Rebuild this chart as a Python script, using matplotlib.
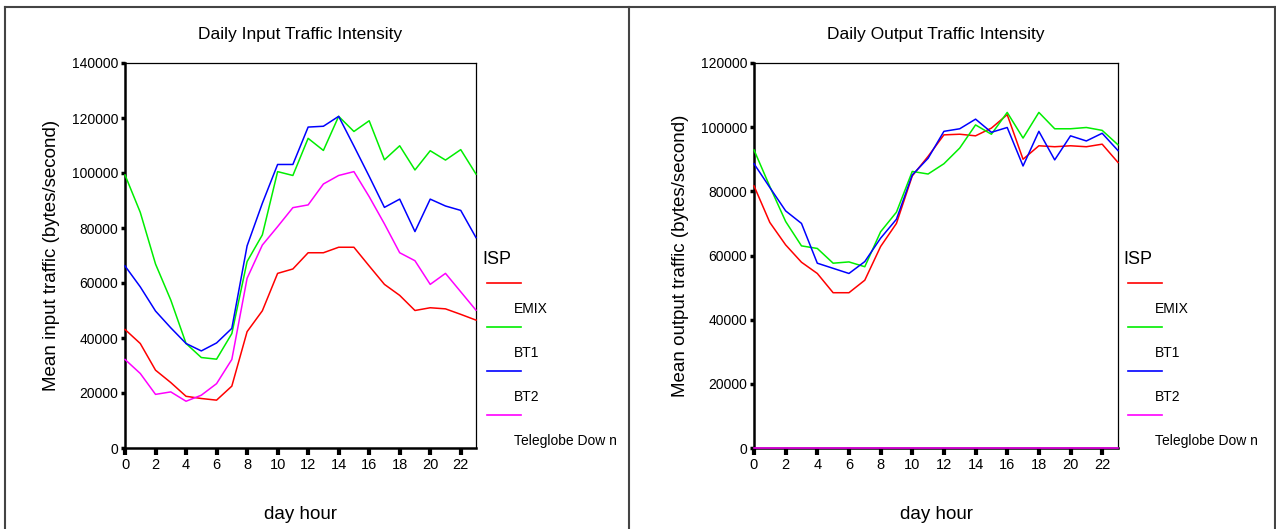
import numpy as np
import matplotlib
matplotlib.use("Agg")
import matplotlib.pyplot as plt
from matplotlib.lines import Line2D

plt.rcParams['font.family'] = ['Liberation Sans', 'DejaVu Sans']

hours = list(range(24))
isps = ["EMIX", "BT1", "BT2", "Teleglobe Dow n"]
colors = ["#ff0000", "#00ee00", "#0000ff", "#ff00ff"]

# mean input traffic (bytes/second) per hour
in_emix = [43100, 38000, 28300, 23800, 18800, 18000, 17400, 22500, 42300, 49900,
           63500, 65100, 71000, 71000, 73000, 73000, 66200, 59500, 55500, 50000,
           51000, 50600, 48600, 46500]
in_bt1 = [99300, 85700, 66900, 53800, 38000, 32900, 32300, 41600, 67800, 77500,
          100500, 99100, 112600, 108200, 120600, 115100, 119000, 104800, 109900, 101100,
          108100, 104700, 108500, 99600]
in_bt2 = [66200, 58600, 49800, 43700, 38000, 35300, 38200, 43500, 73500, 89000,
          103100, 103100, 116700, 117000, 120600, 109800, 98800, 87500, 90500, 78700,
          90500, 88000, 86400, 76500]
in_tele = [32200, 27100, 19500, 20400, 17000, 19200, 23400, 32200, 61700, 73800,
           80500, 87400, 88400, 96000, 99100, 100500, 91400, 81500, 71000, 68100,
           59500, 63500, 56800, 50100]

# mean output traffic (bytes/second) per hour
out_emix = [81700, 70300, 63300, 57900, 54400, 48400, 48400, 52300, 62800, 70000,
            84800, 90900, 97600, 97800, 97300, 99700, 103900, 90000, 94200, 93900,
            94200, 93900, 94700, 89000]
out_bt1 = [92900, 81500, 70600, 63000, 62200, 57600, 58000, 56500, 67400, 73500,
           86200, 85400, 88600, 93500, 100700, 97800, 104600, 96600, 104600, 99500,
           99500, 99900, 99000, 94500]
out_bt2 = [88600, 81200, 73900, 70000, 57600, 56000, 54400, 58100, 65400, 71300,
           85100, 90300, 98700, 99500, 102500, 98400, 99900, 87900, 98700, 89800,
           97300, 95700, 98100, 92700]
out_tele = [0] * 24

W, H = 1276, 529
fig = plt.figure(figsize=(W / 100, H / 100), dpi=100)


def fx(x):
    return x / W


def fy(y):
    return 1 - y / H


def panel(left, right, title, ylabel, ymax, series, leg_x):
    ax = fig.add_axes([fx(left), fy(448), fx(right - left), (448 - 63) / H])
    for vals, c in zip(series, colors):
        ax.plot(hours, vals, color=c, lw=1.1, clip_on=False, zorder=3)
    ax.set_xlim(0, 23)
    ax.set_ylim(0, ymax)
    ax.set_xticks(range(0, 23, 2))
    ax.set_yticks(range(0, ymax + 1, 20000))
    for s in ['top', 'right']:
        ax.spines[s].set_linewidth(0.9)
    for s in ['left', 'bottom']:
        ax.spines[s].set_linewidth(1.8)
    ax.tick_params(axis='y', length=3, width=2.5, pad=2, labelsize=10)
    ax.tick_params(axis='x', length=5, width=3, pad=2, labelsize=10.5)
    ax.set_title(title, fontsize=12.5, pad=17)
    ax.set_ylabel(ylabel, fontsize=13.5, labelpad=8)
    ax.set_xlabel("day hour", fontsize=13.5, labelpad=25)

    # SPSS-style legend with labels sitting under each swatch
    fig.text(fx(leg_x - 5), fy(259), "ISP", fontsize=13, va='center', ha='left')
    for i, (name, c) in enumerate(zip(isps, colors)):
        ly = 283 + 44 * i
        fig.add_artist(Line2D([fx(leg_x), fx(leg_x + 34)], [fy(ly), fy(ly)],
                              color=c, lw=1.2, transform=fig.transFigure))
        fig.text(fx(leg_x + 27), fy(ly + 26), name, fontsize=10,
                 va='center', ha='left')
    return ax


panel(125, 476, "Daily Input Traffic Intensity",
      "Mean input traffic (bytes/second)", 140000,
      [in_emix, in_bt1, in_bt2, in_tele], 487)
panel(754, 1118, "Daily Output Traffic Intensity",
      "Mean output traffic (bytes/second)", 120000,
      [out_emix, out_bt1, out_bt2, out_tele], 1128)

# outer frame lines
frame = dict(color="#444444", lw=1.5, transform=fig.transFigure)
fig.add_artist(Line2D([fx(5), fx(1275)], [fy(7), fy(7)], **frame))
fig.add_artist(Line2D([fx(5), fx(5)], [fy(7), 0], **frame))
fig.add_artist(Line2D([fx(629), fx(629)], [fy(7), 0], **frame))
fig.add_artist(Line2D([fx(1275), fx(1275)], [fy(7), 0], **frame))

fig.savefig("out.png", dpi=100)
